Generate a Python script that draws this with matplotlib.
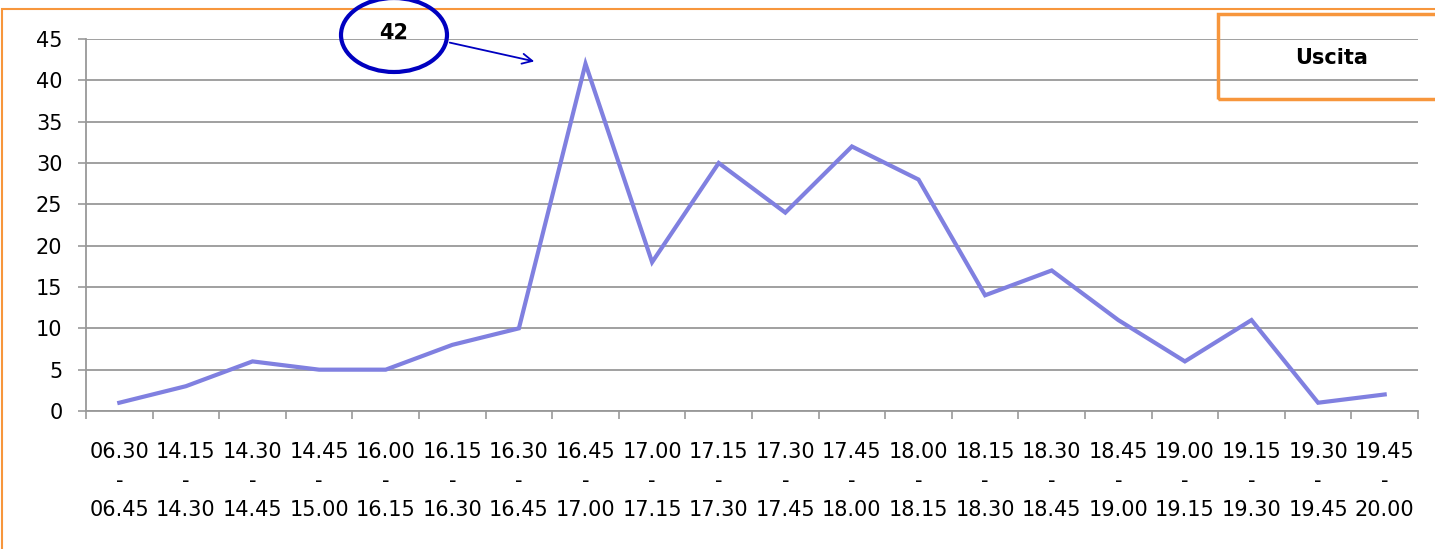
import matplotlib.pyplot as plt
from matplotlib.patches import Ellipse, Rectangle

# dati
inizio = ['06.30', '14.15', '14.30', '14.45', '16.00', '16.15', '16.30', '16.45', '17.00', '17.15',
          '17.30', '17.45', '18.00', '18.15', '18.30', '18.45', '19.00', '19.15', '19.30', '19.45']
fine = ['06.45', '14.30', '14.45', '15.00', '16.15', '16.30', '16.45', '17.00', '17.15', '17.30',
        '17.45', '18.00', '18.15', '18.30', '18.45', '19.00', '19.15', '19.30', '19.45', '20.00']
uscita = [1, 3, 6, 5, 5, 8, 10, 42, 18, 30, 24, 32, 28, 14, 17, 11, 6, 11, 1, 2]
y_ticks = list(range(0, 50, 5))

W, H = 1435, 549
ORANGE = '#F7963C'
GRID = '#999999'

plt.rcParams['font.family'] = ['DejaVu Sans']

fig = plt.figure(figsize=(W / 100, H / 100), dpi=100)
ax = fig.add_axes([86 / W, 1 - 411 / H, (1418 - 86) / W, (411 - 39) / H])

x = list(range(len(uscita)))
ax.plot(x, uscita, color='#8080E0', lw=3.0, solid_joinstyle='miter', zorder=3)

ax.set_xlim(-0.5, len(uscita) - 0.5)
ax.set_ylim(0, 45)
ax.set_yticks(y_ticks)
# tacche ai confini delle categorie, etichette al centro
ax.set_xticks([i - 0.5 for i in range(len(uscita) + 1)])
ax.set_xticklabels([''] * (len(uscita) + 1))
ax.set_xticks(x, minor=True)
ax.set_xticklabels([f'{a}\n-\n{b}' for a, b in zip(inizio, fine)], minor=True,
                   linespacing=1.58)
ax.tick_params(axis='x', which='minor', length=0, pad=22, labelsize=15)
ax.tick_params(axis='x', which='major', length=6, width=1.2, color=GRID, direction='out')
ax.tick_params(axis='y', length=6, width=1.2, color=GRID, direction='out', pad=11, labelsize=15)

ax.grid(axis='y', color=GRID, lw=1.3)
ax.set_axisbelow(True)
for s in ['top', 'right']:
    ax.spines[s].set_visible(False)
for s in ['left', 'bottom']:
    ax.spines[s].set_color(GRID)
    ax.spines[s].set_linewidth(1.3)

# cornice esterna
fig.patches.append(Rectangle((2 / W, -0.05), 1.1, 1 - 9 / H + 0.05, transform=fig.transFigure,
                             fill=False, edgecolor=ORANGE, lw=1.5))
# legenda
fig.patches.append(Rectangle((1218 / W, 1 - 99 / H), 0.2, (99 - 14) / H, transform=fig.transFigure,
                             fill=False, edgecolor=ORANGE, lw=2.5))
fig.text(1332 / W, 1 - 58 / H, 'Uscita', ha='center', va='center', fontsize=15, fontweight='bold')

# evidenziazione del massimo
fig.patches.append(Ellipse((394 / W, 1 - 35 / H), 106 / W, 74 / H, transform=fig.transFigure,
                           fill=False, edgecolor='#0000C0', lw=3))
fig.text(394 / W, 1 - 33 / H, str(max(uscita)), ha='center', va='center', fontsize=15, fontweight='bold')
ax.annotate('', xy=(537 / W, 1 - 62 / H), xytext=(447 / W, 1 - 42 / H),
            xycoords='figure fraction', textcoords='figure fraction',
            arrowprops=dict(arrowstyle='->', color='#0000C0', lw=1.3, mutation_scale=18))

fig.savefig('out.png', dpi=100)
